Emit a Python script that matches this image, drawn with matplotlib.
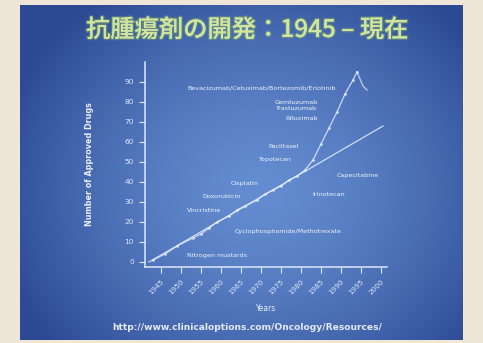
import numpy as np
import matplotlib
matplotlib.use("Agg")
import matplotlib.pyplot as plt
import matplotlib.patheffects as pe

# ---------------- data ----------------
title = "抗腫瘍剤の開発：1945 – 現在"
x_label = "Years"
y_label = "Number of Approved Drugs"
footer = "http://www.clinicaloptions.com/Oncology/Resources/"

x_ticks = [1945, 1950, 1955, 1960, 1965, 1970, 1975, 1980, 1985, 1990, 1995, 2000]
y_ticks = [0, 10, 20, 30, 40, 50, 60, 70, 80, 90]

# cumulative approved drugs
years = [1943, 1946, 1949, 1953, 1955, 1957, 1959, 1962, 1964, 1966, 1969, 1971,
         1973, 1975, 1977, 1979, 1981, 1983, 1985, 1987, 1989, 1991, 1993, 1994]
counts = [1, 4, 8, 12, 14, 17, 20, 23, 26, 28, 31, 34,
          36, 38, 41, 43, 46, 51, 59, 67, 75, 84, 91, 95]
# small branch at the top of the curve
branch_years = [1994, 1995.5, 1996.5]
branch_counts = [95, 88, 86]
# linear trend
trend_years = [1942, 2000.5]
trend_counts = [0, 68]

# drug labels
drug_labels = ["Bevacizumab/Cetuximab/Bortezomib/Erlotinib",
               "Gemtuzumab", "Trastuzumab", "Rituximab",
               "Paclitaxel", "Topotecan", "Cisplatin", "Doxorubicin",
               "Vincristine", "Cyclophosphamide/Methotrexate", "Nitrogen mustards",
               "Irinotecan", "Capecitabine"]
label_years = [1951.5, 1973.5, 1973.5, 1976, 1971.75, 1969.25, 1962.5, 1955.25,
               1951.5, 1963.5, 1951.5, 1982.75, 1989]
label_counts = [87, 80, 76.5, 72, 58, 51.5, 39, 33, 26, 15.5, 3, 34, 43.5]

# ---------------- figure ----------------
W, H = 483, 343
fig = plt.figure(figsize=(W / 100, H / 100), dpi=100)

# background: beige frame + blue radial gradient slide
bg = np.zeros((H, W, 3))
bg[:, :] = np.array([239, 230, 216]) / 255
yy, xx = np.mgrid[0:H, 0:W]
sx0, sx1, sy0, sy1 = 20, 463, 5, 340
r = np.sqrt(((xx - 260) / 270.0) ** 2 + ((yy - 190) / 240.0) ** 2)
r = np.clip(r, 0, 1)
c_center = np.array([100, 140, 208]) / 255
c_edge = np.array([44, 74, 148]) / 255
w = r[..., None] ** 1.5
grad = c_center[None, None, :] * (1 - w) + c_edge[None, None, :] * w
mask = (xx >= sx0) & (xx < sx1) & (yy >= sy0) & (yy < sy1)
bg[mask] = grad[mask]
bax = fig.add_axes([0, 0, 1, 1])
bax.imshow(bg, aspect="auto", extent=[0, W, H, 0], interpolation="bilinear")
bax.set_xlim(0, W)
bax.set_ylim(H, 0)
bax.axis("off")

# title
fig.text(247 / W, 1 - 30 / H, title, ha="center", va="center", fontsize=17.5,
         color="#d2e5a0", fontweight="medium",
         family=["Noto Sans CJK JP", "DejaVu Sans"],
         path_effects=[pe.withStroke(linewidth=2.0, foreground=(0.55, 0.75, 0.35, 0.35))])

# footer
fig.text(247 / W, 1 - 328 / H, footer, ha="center", va="center", fontsize=6.6,
         color="#e2eaf6", fontweight="bold")

# chart axes
left, right, bottom, top = 145, 387, 267, 62
ax = fig.add_axes([left / W, 1 - bottom / H, (right - left) / W, (bottom - top) / H])
ax.patch.set_alpha(0)
ax.set_xlim(1941, 2001.5)
ax.set_ylim(-2.5, 100)
for s in ["top", "right"]:
    ax.spines[s].set_visible(False)
for s in ["left", "bottom"]:
    ax.spines[s].set_color("#dfe8f6")
    ax.spines[s].set_linewidth(1.1)

ax.set_xticks(x_ticks)
ax.set_xticklabels([str(v) for v in x_ticks], rotation=45, ha="right",
                   rotation_mode="anchor", fontsize=5.2, color="#dfe8f6")
ax.set_yticks(y_ticks)
ax.set_yticklabels([str(v) for v in y_ticks], fontsize=5.3, color="#dfe8f6")
ax.tick_params(axis="both", colors="#dfe8f6", length=4, width=0.8, pad=4)

ax.set_xlabel(x_label, fontsize=5.5, color="#e8eef8", labelpad=6)
ax.set_ylabel(y_label, fontsize=5.8, color="#e8eef8", fontweight="bold", labelpad=22)

ax.plot(trend_years, trend_counts, color="#e6eefa", lw=0.9, alpha=0.85)
ax.plot(years, counts, color="#e6eefa", lw=1.0, alpha=0.75, marker="o", ms=1.0)
ax.plot(branch_years, branch_counts, color="#e6eefa", lw=1.0, alpha=0.7)

for t, xv, yv in zip(drug_labels, label_years, label_counts):
    ax.text(xv, yv, t, fontsize=4.6, color="#eef3fb", ha="left", va="center")

fig.savefig("out.png", dpi=100)
